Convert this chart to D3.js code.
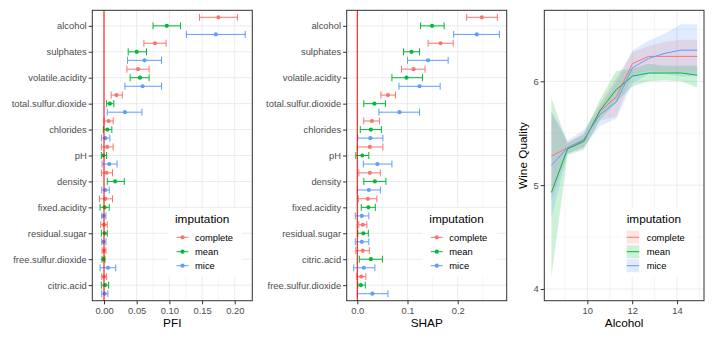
<!DOCTYPE html>
<html>
<head>
<meta charset="utf-8">
<title>Wine quality: PFI, SHAP and alcohol effect</title>
<script src="https://d3js.org/d3.v7.min.js"></script>
<style>
  body { margin: 0; background: #fff; }
  svg text { font-family: "Liberation Sans", Arial, Helvetica, sans-serif; }
</style>
</head>
<body>
<svg id="chart" width="714" height="340"></svg>
<script>
const imputations = ["complete", "mean", "mice"];
const colors = ["#F8766D", "#00BA38", "#619CFF"];

// permutation feature importance, each row [estimate, lower, upper]
const pfiFeatures = ["alcohol", "sulphates", "volatile.acidity", "total.sulfur.dioxide", "chlorides",
  "pH", "density", "fixed.acidity", "residual.sugar", "free.sulfur.dioxide", "citric.acid"];
const pfiComplete = [[0.175, 0.146, 0.204], [0.078, 0.061, 0.095], [0.052, 0.035, 0.069], [0.019, 0.011, 0.028],
  [0.007, 0.000, 0.014], [0.005, -0.004, 0.014], [0.004, -0.004, 0.013], [0.002, -0.007, 0.013],
  [0.000, -0.005, 0.005], [0.000, -0.003, 0.003], [0.000, -0.0035, 0.004]];
const pfiMean = [[0.096, 0.075, 0.117], [0.050, 0.037, 0.065], [0.055, 0.040, 0.069], [0.009, 0.004, 0.015],
  [0.005, -0.001, 0.012], [-0.001, -0.004, 0.004], [0.017, 0.005, 0.031], [0.001, -0.006, 0.008],
  [0.001, -0.004, 0.005], [-0.001, -0.003, 0.0015], [0.0015, -0.004, 0.007]];
const pfiMice = [[0.171, 0.126, 0.216], [0.062, 0.036, 0.088], [0.059, 0.032, 0.088], [0.032, 0.005, 0.058],
  [0.002, -0.004, 0.009], [0.008, -0.003, 0.020], [0.002, -0.0035, 0.008], [-0.001, -0.0035, 0.003],
  [-0.001, -0.0035, 0.003], [0.006, -0.006, 0.018], [0.001, -0.0035, 0.006]];
const pfiTicks = [0, 0.05, 0.10, 0.15, 0.20];

// mean |SHAP|, each row [estimate, lower, upper]
const shapFeatures = ["alcohol", "sulphates", "volatile.acidity", "total.sulfur.dioxide", "chlorides",
  "pH", "density", "fixed.acidity", "residual.sugar", "citric.acid", "free.sulfur.dioxide"];
const shapComplete = [[0.248, 0.218, 0.279], [0.166, 0.141, 0.191], [0.112, 0.088, 0.135], [0.061, 0.047, 0.076],
  [0.029, 0.013, 0.044], [0.025, 0.000, 0.051], [0.025, 0.003, 0.046], [0.021, 0.002, 0.039],
  [0.011, 0.003, 0.019], [0.011, -0.003, 0.024], [0.008, -0.001, 0.017]];
const shapMean = [[0.149, 0.126, 0.173], [0.108, 0.092, 0.124], [0.098, 0.069, 0.130], [0.034, 0.013, 0.056],
  [0.027, 0.006, 0.048], [0.010, -0.003, 0.023], [0.035, 0.013, 0.057], [0.022, 0.008, 0.036],
  [0.012, 0.001, 0.022], [0.027, 0.004, 0.050], [0.007, 0.001, 0.016]];
const shapMice = [[0.238, 0.192, 0.283], [0.141, 0.100, 0.181], [0.124, 0.083, 0.165], [0.084, 0.043, 0.124],
  [0.026, 0.001, 0.051], [0.040, 0.012, 0.069], [0.023, 0.000, 0.046], [0.009, -0.004, 0.023],
  [0.009, -0.004, 0.023], [0.013, -0.007, 0.035], [0.030, 0.000, 0.061]];
const shapTicks = [0, 0.1, 0.2];

// partial dependence of quality on alcohol, each row [fit, lower, upper]
const alcoholGrid = [8.4, 9.12, 9.84, 10.57, 11.29, 12.01, 12.73, 13.46, 14.18, 14.9];
const qualityComplete = [[5.28, 4.85, 5.70], [5.36, 5.31, 5.41], [5.43, 5.36, 5.50], [5.71, 5.62, 5.79],
  [5.85, 5.66, 6.03], [6.17, 6.06, 6.28], [6.24, 6.10, 6.34], [6.24, 6.09, 6.38], [6.24, 6.08, 6.40], [6.24, 6.08, 6.40]];
const qualityMean = [[4.93, 4.12, 5.84], [5.35, 5.29, 5.40], [5.42, 5.34, 5.49], [5.72, 5.63, 5.83],
  [5.92, 5.80, 6.10], [6.05, 5.95, 6.12], [6.08, 6.00, 6.17], [6.08, 6.01, 6.15], [6.08, 6.00, 6.15], [6.06, 5.94, 6.15]];
const qualityMice = [[5.19, 4.68, 5.72], [5.36, 5.30, 5.43], [5.44, 5.37, 5.53], [5.68, 5.57, 5.76],
  [5.80, 5.64, 5.99], [6.13, 5.98, 6.30], [6.22, 6.07, 6.39], [6.27, 6.07, 6.46], [6.30, 6.05, 6.55], [6.30, 6.05, 6.55]];
const alcoholTicks = [10, 12, 14];
const qualityTicks = [4, 5, 6];

const svg = d3.select("#chart");
const top_ = 10.3, bottom = 300.7;
const gridCol = "#EBEBEB";

function styleAxis(g) {
  g.attr("font-family", null).attr("font-size", 9.4);
  g.select(".domain").remove();
  g.selectAll(".tick line").attr("stroke", "#333").attr("stroke-width", 1);
  g.selectAll(".tick text").attr("fill", "#4D4D4D");
}

function frame(x0, x1) {
  svg.append("rect").attr("x", x0).attr("y", top_).attr("width", x1 - x0).attr("height", bottom - top_)
    .attr("fill", "#fff");
}

function border(x0, x1) {
  svg.append("rect").attr("x", x0).attr("y", top_).attr("width", x1 - x0).attr("height", bottom - top_)
    .attr("fill", "none").attr("stroke", "#333").attr("stroke-width", 1);
}

function legend(x0, keyFn) {
  const rows = [237.3, 251.7, 265.7];
  const lg = svg.append("g");
  lg.append("rect").attr("x", x0 - 6.5).attr("y", 208).attr("width", 74).attr("height", 69).attr("fill", "#fff");
  lg.append("text").attr("x", x0).attr("y", 222.5).attr("font-size", 11.8).attr("fill", "#000").text("imputation");
  imputations.forEach((name, i) => {
    keyFn(lg, x0, rows[i], colors[i]);
    lg.append("text").attr("x", x0 + 20).attr("y", rows[i] + 3.4).attr("font-size", 9.4)
      .attr("fill", "#000").text(name);
  });
}

function dotPanel(x0, x1, features, series, domain, ticks, minor, fmt, title, legendX) {
  const x = d3.scaleLinear().domain(domain).range([x0, x1]);
  const y = d3.scalePoint().domain(features).range([top_, bottom]).padding(0.6);
  const off = y.step() * 0.33;
  frame(x0, x1);

  svg.append("g").selectAll("line").data(minor).join("line")
    .attr("x1", d => x(d)).attr("x2", d => x(d)).attr("y1", top_).attr("y2", bottom)
    .attr("stroke", gridCol).attr("stroke-width", 0.5);
  svg.append("g").selectAll("line").data(ticks).join("line")
    .attr("x1", d => x(d)).attr("x2", d => x(d)).attr("y1", top_).attr("y2", bottom)
    .attr("stroke", gridCol).attr("stroke-width", 1);
  svg.append("g").selectAll("line").data(features).join("line")
    .attr("x1", x0).attr("x2", x1).attr("y1", d => y(d)).attr("y2", d => y(d))
    .attr("stroke", gridCol).attr("stroke-width", 1);

  series.forEach((rows, s) => {
    const g = svg.append("g").attr("stroke", colors[s]).attr("fill", colors[s]);
    rows.forEach((r, i) => {
      const cy = y(features[i]) + (s - 1) * off;
      g.append("line").attr("x1", x(r[1])).attr("x2", x(r[2])).attr("y1", cy).attr("y2", cy);
      g.append("line").attr("x1", x(r[1])).attr("x2", x(r[1])).attr("y1", cy - 3.5).attr("y2", cy + 3.5);
      g.append("line").attr("x1", x(r[2])).attr("x2", x(r[2])).attr("y1", cy - 3.5).attr("y2", cy + 3.5);
      g.append("circle").attr("cx", x(r[0])).attr("cy", cy).attr("r", 2.1).attr("stroke", "none");
    });
  });

  svg.append("line").attr("x1", x(0)).attr("x2", x(0)).attr("y1", top_).attr("y2", bottom)
    .attr("stroke", "#FF0000").attr("stroke-width", 1);

  border(x0, x1);

  svg.append("g").attr("transform", `translate(0,${bottom})`)
    .call(d3.axisBottom(x).tickValues(ticks).tickFormat(d3.format(fmt)).tickSize(3.6).tickPadding(3))
    .call(styleAxis);
  svg.append("g").attr("transform", `translate(${x0},0)`)
    .call(d3.axisLeft(y).tickSize(3.6).tickPadding(2))
    .call(styleAxis);

  svg.append("text").attr("x", (x0 + x1) / 2).attr("y", 326.5).attr("text-anchor", "middle")
    .attr("font-size", 11.8).attr("fill", "#000").text(title);

  legend(legendX, (lg, lx, ry, c) => {
    lg.append("line").attr("x1", lx + 1.5).attr("x2", lx + 13.5).attr("y1", ry).attr("y2", ry)
      .attr("stroke", c).attr("stroke-width", 1);
    lg.append("circle").attr("cx", lx + 7.5).attr("cy", ry).attr("r", 2.1).attr("fill", c);
  });
}

dotPanel(92.3, 252.3, pfiFeatures, [pfiComplete, pfiMean, pfiMice], [-0.0179, 0.2268],
  pfiTicks, [0.025, 0.075, 0.125, 0.175, 0.225], ".2f", "PFI", 175);
dotPanel(346.7, 506.7, shapFeatures, [shapComplete, shapMean, shapMice], [-0.0211, 0.2976],
  shapTicks, [0.05, 0.15, 0.25], ".1f", "SHAP", 429.3);

// alcohol effect panel
const rx0 = 544.3, rx1 = 704;
const ax = d3.scaleLinear().domain([8.083, 15.2]).range([rx0, rx1]);
const ay = d3.scaleLinear().domain([3.887, 6.684]).range([bottom, top_]);
frame(rx0, rx1);

svg.append("g").selectAll("line").data([9, 11, 13, 15]).join("line")
  .attr("x1", d => ax(d)).attr("x2", d => ax(d)).attr("y1", top_).attr("y2", bottom)
  .attr("stroke", gridCol).attr("stroke-width", 0.5);
svg.append("g").selectAll("line").data([4.5, 5.5, 6.5]).join("line")
  .attr("x1", rx0).attr("x2", rx1).attr("y1", d => ay(d)).attr("y2", d => ay(d))
  .attr("stroke", gridCol).attr("stroke-width", 0.5);
svg.append("g").selectAll("line").data(alcoholTicks).join("line")
  .attr("x1", d => ax(d)).attr("x2", d => ax(d)).attr("y1", top_).attr("y2", bottom)
  .attr("stroke", gridCol).attr("stroke-width", 1);
svg.append("g").selectAll("line").data(qualityTicks).join("line")
  .attr("x1", rx0).attr("x2", rx1).attr("y1", d => ay(d)).attr("y2", d => ay(d))
  .attr("stroke", gridCol).attr("stroke-width", 1);

const quality = [qualityComplete, qualityMean, qualityMice];
const band = d3.area().x((d, i) => ax(alcoholGrid[i])).y0(d => ay(d[1])).y1(d => ay(d[2]));
const fit = d3.line().x((d, i) => ax(alcoholGrid[i])).y(d => ay(d[0]));

quality.forEach((rows, s) => {
  svg.append("path").attr("d", band(rows)).attr("fill", colors[s]).attr("fill-opacity", 0.2);
});
quality.forEach((rows, s) => {
  svg.append("path").attr("d", fit(rows)).attr("fill", "none").attr("stroke", colors[s]).attr("stroke-width", 1);
});

border(rx0, rx1);

svg.append("g").attr("transform", `translate(0,${bottom})`)
  .call(d3.axisBottom(ax).tickValues(alcoholTicks).tickFormat(d3.format("d")).tickSize(3.6).tickPadding(3))
  .call(styleAxis);
svg.append("g").attr("transform", `translate(${rx0},0)`)
  .call(d3.axisLeft(ay).tickValues(qualityTicks).tickFormat(d3.format("d")).tickSize(3.6).tickPadding(2))
  .call(styleAxis);

svg.append("text").attr("x", (rx0 + rx1) / 2).attr("y", 326.5).attr("text-anchor", "middle")
  .attr("font-size", 11.8).attr("fill", "#000").text("Alcohol");
svg.append("text").attr("transform", `translate(527,${(top_ + bottom) / 2}) rotate(-90)`)
  .attr("text-anchor", "middle").attr("font-size", 11.8).attr("fill", "#000").text("Wine Quality");

legend(626.7, (lg, lx, ry, c) => {
  lg.append("rect").attr("x", lx).attr("y", ry - 6.5).attr("width", 12.5).attr("height", 13)
    .attr("fill", c).attr("fill-opacity", 0.2);
  lg.append("line").attr("x1", lx).attr("x2", lx + 12.5).attr("y1", ry).attr("y2", ry)
    .attr("stroke", c).attr("stroke-width", 1);
});
</script>
</body>
</html>
